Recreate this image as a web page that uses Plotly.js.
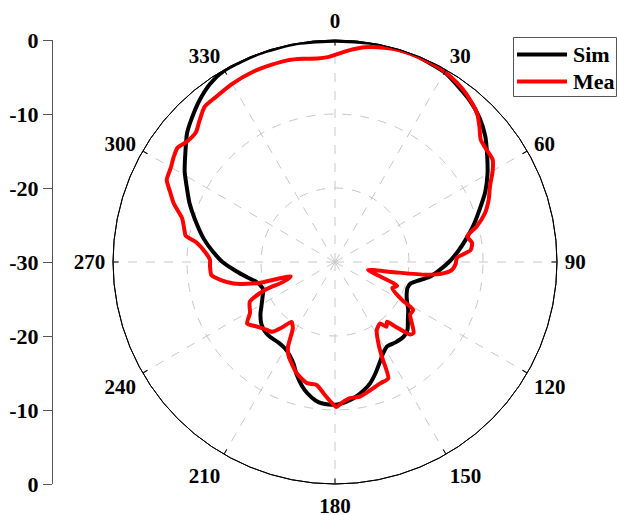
<!DOCTYPE html>
<html>
<head>
<meta charset="utf-8">
<script src="https://cdn.plot.ly/plotly-3.0.1.min.js"></script>
<style>
  html, body { margin: 0; padding: 0; background: #fff; }
  #chart { width: 617px; height: 515px; }
</style>
</head>
<body>
<div id="chart"></div>
<script>
// Series names
const seriesNames = ['Sim', 'Mea'];
const seriesColors = ['#000000', '#ff0000'];
// Angular tick labels (degrees)
const angleTicks = [0, 30, 60, 90, 120, 150, 180, 210, 240, 270, 300, 330];
// Radial scale (dB)
const radialTicks = [-30, -20, -10, 0];
// Left scale: positions and labels
const leftTickPos = [30, 20, 10, 0, -10, -20, -30];
const leftTickText = ['0', '-10', '-20', '-30', '-20', '-10', '0'];

// Simulated pattern (Sim)
const simTheta = [0,10,20,30,40,45,50,55,60,65,70,75,80,85,90,95,99,103,106,110,114,118,123,128,133,137,143,148,152,155,160,164,168,171,175,180,185,188,192,195,199,202,206,210,215,221,226,230,235,239,244,249,253,256,260,265,270,275,280,287,292,297,301,306,311,315,320,325,330,340,350,360];
const simR = [-0.1,0,0,-0.4,-1.6,-2.4,-3.5,-4.9,-6.2,-7.6,-9.2,-10.6,-12.0,-13.3,-14.6,-16.0,-17.1,-18.6,-19.4,-19.6,-19.4,-19.0,-18.2,-17.5,-16.6,-16.3,-16.4,-16.6,-16.1,-15.4,-14.0,-12.9,-12.1,-11.6,-11.1,-10.7,-10.8,-11.1,-11.9,-12.7,-14.0,-15.1,-16.0,-16.5,-16.7,-16.6,-16.7,-17.0,-17.7,-18.4,-19.1,-19.6,-19.4,-19.0,-18.0,-16.5,-14.8,-13.4,-12.0,-10.2,-8.8,-7.5,-6.3,-5.0,-3.5,-2.6,-1.5,-0.6,-0.1,0,0,-0.1];

// Measured pattern (Mea)
const meaTheta = [0,4,8,13,17,23,28,32,36,40,44,47,50,53,57,60,64,68,72,76,79,82,85,88,91,94,96,98,100,103.5,106.5,110,111,114.5,119.5,121.5,125,132,134,137,139,141.5,143.8,148.5,152.5,153.8,155.4,159.6,164,169.5,173.7,177,179.5,182,185,188.5,193,199,204.5,206.5,209,212.5,216,219,222,227,231,235,239,245,248.2,249,252,254.5,256,258,261,264,268,271,274,278,280,282,286,290,293,296,300,303,306,309,313,316,320,324,330,337,342,347,351,355,358,360];
const meaR = [-2.0,-1.3,-0.7,-0.3,-0.1,-0.1,-0.2,-0.5,-0.9,-1.5,-2.3,-3.3,-4.3,-4.5,-4.6,-5.4,-6.7,-7.6,-8.7,-10.3,-11.8,-11.3,-11.6,-13.5,-13.7,-14.2,-15.3,-17.6,-22.3,-25.4,-24.4,-21.5,-21.0,-21.5,-19.6,-17.6,-17.6,-15.7,-15.9,-18.1,-19.3,-18.8,-19.7,-19.2,-17.1,-15.5,-12.7,-12.5,-12.1,-11.5,-11.5,-11.0,-10.4,-11.2,-12.2,-13.2,-13.2,-14.1,-15.4,-15.9,-16.9,-19.4,-20.0,-18.6,-17.3,-16.8,-16.2,-15.5,-16.6,-17.3,-19.8,-22.5,-23.7,-19.5,-17.8,-16.0,-14.4,-13.2,-13.1,-13.1,-12.5,-11.1,-9.5,-9.2,-8.5,-6.8,-5.8,-4.7,-4.4,-4.0,-3.7,-4.2,-4.3,-3.6,-2.6,-2.5,-2.2,-2.0,-2.0,-2.0,-2.2,-2.4,-2.3,-2.0];

const W = 617, H = 515;
const serif = 'Liberation Serif, Times New Roman, serif';
const polarDomain = {x: [113 / W, 557 / W], y: [31 / H, 475 / H]};

const traces = [
  {
    type: 'scatterpolar', r: simR, theta: simTheta, name: seriesNames[0],
    mode: 'lines', line: {color: seriesColors[0], width: 4, shape: 'spline', smoothing: 0.6},
    subplot: 'polar', hoverinfo: 'skip', showlegend: false
  },
  {
    type: 'scatterpolar', r: meaR, theta: meaTheta, name: seriesNames[1],
    mode: 'lines', line: {color: seriesColors[1], width: 4, shape: 'spline', smoothing: 0.6},
    subplot: 'polar', hoverinfo: 'skip', showlegend: false
  },
  // anchor for the overlay polar (inner tick marks only)
  {
    type: 'scatterpolar', r: [-30], theta: [0], mode: 'markers', marker: {opacity: 0},
    subplot: 'polar2', hoverinfo: 'skip', showlegend: false
  },
  // anchor for the left linear scale
  {
    type: 'scatter', x: [0], y: [0], mode: 'markers', marker: {opacity: 0},
    showlegend: false, hoverinfo: 'skip', xaxis: 'x', yaxis: 'y'
  }
];

// Legend drawn by hand (box, line samples, names)
const lgX0 = 513.5, lgX1 = 616.5, lgY0 = 37.5, lgY1 = 96.5;
const rowY = [54.5, 81.5];
const shapes = [
  {type: 'rect', xref: 'paper', yref: 'paper',
   x0: lgX0 / W, x1: lgX1 / W, y0: 1 - lgY1 / H, y1: 1 - lgY0 / H,
   line: {color: '#555', width: 1}, fillcolor: '#ffffff', layer: 'above'}
];
const annotations = [];
seriesNames.forEach((nm, i) => {
  shapes.push({type: 'line', xref: 'paper', yref: 'paper',
    x0: 517 / W, x1: 567 / W, y0: 1 - rowY[i] / H, y1: 1 - rowY[i] / H,
    line: {color: seriesColors[i], width: 4}, layer: 'above'});
  annotations.push({xref: 'paper', yref: 'paper', x: 571 / W, y: 1 - rowY[i] / H,
    xanchor: 'left', yanchor: 'middle', showarrow: false, text: nm,
    font: {family: serif, size: 22, color: '#000', weight: 'bold'}});
});

const layout = {
  width: W, height: H,
  margin: {l: 0, r: 0, t: 0, b: 0},
  paper_bgcolor: '#ffffff',
  plot_bgcolor: 'rgba(0,0,0,0)',
  showlegend: false,
  font: {family: serif, size: 22, color: '#000', weight: 'bold'},
  shapes: shapes,
  annotations: annotations,
  polar: {
    domain: polarDomain,
    bgcolor: 'rgba(0,0,0,0)',
    angularaxis: {
      rotation: 90, direction: 'clockwise',
      tickmode: 'array', tickvals: angleTicks, ticktext: angleTicks.map(String),
      showline: true, linecolor: '#000', linewidth: 1,
      ticks: 'outside', ticklen: 3, tickcolor: 'rgba(0,0,0,0)',
      showgrid: true, gridcolor: '#c8c8c8', griddash: 'dash', gridwidth: 1,
      tickfont: {family: serif, size: 21, color: '#000', weight: 'bold'}
    },
    radialaxis: {
      range: [-30, 0], tickmode: 'array', tickvals: radialTicks,
      showticklabels: false, ticks: '', showline: false,
      showgrid: true, gridcolor: '#c8c8c8', griddash: 'dash', gridwidth: 1
    }
  },
  polar2: {
    domain: polarDomain,
    bgcolor: 'rgba(0,0,0,0)',
    angularaxis: {
      rotation: 90, direction: 'clockwise',
      tickmode: 'array', tickvals: angleTicks, showticklabels: false,
      showline: true, linecolor: '#000', linewidth: 1,
      ticks: 'inside', ticklen: 5, tickcolor: '#000',
      showgrid: false
    },
    radialaxis: {
      range: [-30, 0], showticklabels: false, ticks: '', showline: false, showgrid: false
    }
  },
  xaxis: {domain: [53 / W, 60 / W], range: [0, 1], visible: false, fixedrange: true},
  yaxis: {
    domain: [31 / H, 475 / H], range: [-30, 30], anchor: 'x', side: 'left',
    tickmode: 'array', tickvals: leftTickPos, ticktext: leftTickText,
    showline: true, linecolor: '#555', linewidth: 1,
    ticks: 'outside', ticklen: 9, tickcolor: '#555',
    showgrid: false, zeroline: false, fixedrange: true,
    tickfont: {family: serif, size: 22, color: '#000', weight: 'bold'}
  }
};

Plotly.newPlot('chart', traces, layout, {displayModeBar: false, staticPlot: true});
</script>
</body>
</html>
